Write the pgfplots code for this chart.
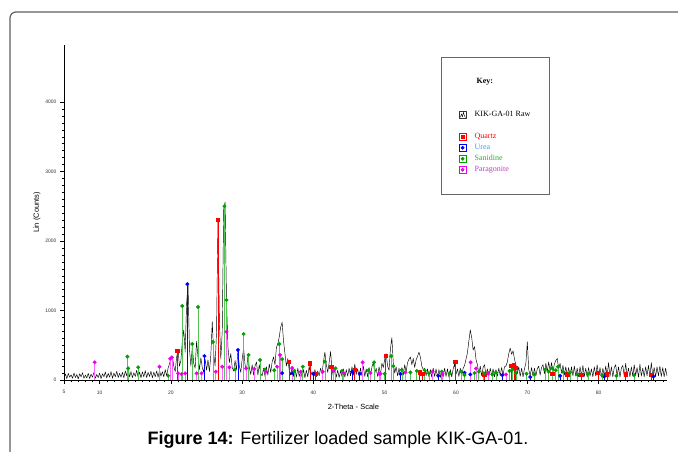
\documentclass[border=0pt]{standalone}
\usepackage{fontspec}
\setmainfont{Liberation Sans}
\newfontfamily\keyfont{Liberation Serif}
\usepackage{pgfplots}
\pgfplotsset{compat=1.18}
\definecolor{qred}{HTML}{FF0000}
\definecolor{ublue}{HTML}{0000FF}
\definecolor{utext}{HTML}{3AA0F0}
\definecolor{sgreen}{HTML}{00A000}
\definecolor{sline}{HTML}{55C455}
\definecolor{stext}{HTML}{33AA33}
\definecolor{pmag}{HTML}{EE00EE}
\definecolor{pline}{HTML}{FF66FF}
\definecolor{ptext}{HTML}{C040C0}
\definecolor{framegray}{HTML}{606060}
\begin{document}
\begin{tikzpicture}
\path[use as bounding box] (0pt,0pt) rectangle (678pt,452pt);
\draw[framegray, line width=1.2pt, rounded corners=6pt] (10pt,-5pt) -- (10pt,440pt) -- (700pt,440pt);
\begin{axis}[
  at={(64pt,72pt)}, anchor=south west,
  scale only axis, width=603pt, height=335pt,
  xmin=5, xmax=89.6, ymin=0, ymax=4820,
  axis lines*=left, axis line style={-, line width=0.5pt},
  tick align=outside,
  major tick length=4pt, minor tick length=2.5pt,
  tick style={black, line width=0.4pt},
  xtick={5,10,20,30,40,50,60,70,80},
  minor xtick={6,7,8,9,11,12,13,14,15,16,17,18,19,21,22,23,24,25,26,27,28,29,31,32,33,34,35,36,37,38,39,41,42,43,44,45,46,47,48,49,51,52,53,54,55,56,57,58,59,61,62,63,64,65,66,67,68,69,71,72,73,74,75,76,77,78,79,81,82,83,84,85,86,87,88,89},
  ytick={0,1000,2000,3000,4000},
  minor y tick num=9,
  /pgf/number format/assume math mode=true,
  /pgf/number format/1000 sep={},
  tick label style={font=\fontsize{5}{6}\selectfont, text=black!80},
  xticklabel style={yshift=-3pt},
  xlabel={2-Theta - Scale},
  ylabel={Lin (Counts)},
  label style={font=\fontsize{7.5}{9}\selectfont},
  xlabel style={at={(axis description cs:0.48,-0.08)}, anchor=center},
  ylabel style={at={(axis description cs:-0.045,0.5)}, anchor=center},
  legend style={at={(0.625,0.964)}, anchor=north west, draw=black!60, line width=0.6pt, fill=white,
    inner xsep=18pt, inner ysep=19pt, row sep=0pt, column sep=8pt,
    font=\keyfont\fontsize{8}{9}\selectfont, nodes={inner sep=0pt, text height=7.5pt, text depth=3.5pt}},
  legend cell align=left,
]
\addlegendimage{empty legend}\addlegendentry{\makebox[57pt][l]{\hspace{2pt}\textbf{Key:}}}
\addlegendimage{empty legend}\addlegendentry{}
\addlegendimage{empty legend}\addlegendentry{}
\addplot[black, line width=0.45pt, line join=round,
  legend image code/.code={\draw[black!80, line width=0.4pt] (0pt,-3.5pt) rectangle (7pt,3.5pt); \draw[black, line width=0.4pt] (1pt,-2.5pt) -- (2pt,1pt) -- (3pt,-2pt) -- (4pt,2.5pt) -- (5pt,-1pt) -- (6pt,-2.5pt);}]
coordinates {
(5.0,30) (5.2,85) (5.4,20) (5.6,95) (5.8,40) (6.0,75) (6.2,25) (6.4,100) (6.6,35) (6.8,80)
(7.0,15) (7.2,90) (7.4,45) (7.6,105) (7.8,25) (8.0,70) (8.2,30) (8.4,95) (8.6,20) (8.8,85)
(9.0,40) (9.2,110) (9.4,25) (9.6,80) (9.8,35) (10.0,100) (10.2,20) (10.4,90) (10.6,45) (10.8,115)
(11.0,30) (11.2,95) (11.4,40) (11.6,120) (11.8,25) (12.0,100) (12.2,45) (12.4,125) (12.6,35) (12.8,95)
(13.0,40) (13.2,110) (13.4,30) (13.6,130) (13.8,60) (14.0,170) (14.2,45) (14.4,120) (14.6,35) (14.8,105)
(15.0,50) (15.2,140) (15.4,40) (15.6,115) (15.8,30) (16.0,120) (16.2,45) (16.4,135) (16.6,35) (16.8,110)
(17.0,50) (17.2,125) (17.4,30) (17.6,115) (17.8,45) (18.0,130) (18.2,40) (18.4,140) (18.6,55) (18.8,120)
(19.0,45) (19.2,150) (19.4,60) (19.6,170) (19.8,230) (20.0,320) (20.2,340) (20.4,200) (20.6,120) (20.8,330)
(21.0,430) (21.2,200) (21.4,280) (21.6,560) (21.8,720) (22.0,400) (22.2,1100) (22.4,1380) (22.6,450) (22.8,200)
(23.0,480) (23.2,240) (23.4,170) (23.6,560) (23.8,330) (24.0,150) (24.2,320) (24.4,180) (24.6,110) (24.8,300)
(25.0,140) (25.2,290) (25.4,120) (25.6,360) (25.8,840) (26.0,380) (26.2,200) (26.4,700) (26.6,2300) (26.8,850)
(27.0,300) (27.2,700) (27.4,2450) (27.6,2560) (27.8,1150) (28.0,480) (28.2,250) (28.4,380) (28.6,180) (28.8,130)
(29.0,280) (29.2,150) (29.4,420) (29.6,200) (29.8,110) (30.0,300) (30.2,460) (30.4,220) (30.6,130) (30.8,350)
(31.0,180) (31.2,80) (31.4,220) (31.6,70) (31.8,200) (32.0,260) (32.2,70) (32.4,220) (32.6,90) (32.8,60)
(33.0,170) (33.2,50) (33.4,190) (33.6,70) (33.8,230) (34.0,110) (34.2,260) (34.4,330) (34.6,220) (34.8,470)
(35.0,520) (35.2,620) (35.4,760) (35.6,830) (35.8,560) (36.0,380) (36.2,200) (36.4,310) (36.6,140) (36.8,70)
(37.0,200) (37.2,50) (37.4,160) (37.6,40) (37.8,170) (38.0,50) (38.2,130) (38.4,40) (38.6,150) (38.8,30)
(39.0,140) (39.2,45) (39.4,200) (39.6,55) (39.8,120) (40.0,35) (40.2,150) (40.4,45) (40.6,130) (40.8,60)
(41.0,170) (41.2,90) (41.4,260) (41.6,400) (41.8,220) (42.0,110) (42.2,250) (42.4,410) (42.6,150) (42.8,50)
(43.0,160) (43.2,40) (43.4,140) (43.6,35) (43.8,130) (44.0,50) (44.2,160) (44.4,40) (44.6,150) (44.8,55)
(45.0,170) (45.2,60) (45.4,190) (45.6,70) (45.8,230) (46.0,80) (46.2,160) (46.4,50) (46.6,170) (46.8,60)
(47.0,200) (47.2,50) (47.4,160) (47.6,45) (47.8,180) (48.0,60) (48.2,190) (48.4,250) (48.6,100) (48.8,170)
(49.0,50) (49.2,190) (49.4,80) (49.6,240) (49.8,180) (50.0,300) (50.2,380) (50.4,200) (50.6,140) (50.8,450)
(51.0,610) (51.2,240) (51.4,100) (51.6,190) (51.8,60) (52.0,170) (52.2,50) (52.4,180) (52.6,70) (52.8,220)
(53.0,120) (53.2,250) (53.4,300) (53.6,330) (53.8,220) (54.0,310) (54.2,180) (54.4,290) (54.6,340) (54.8,400)
(55.0,330) (55.2,200) (55.4,150) (55.6,170) (55.8,60) (56.0,160) (56.2,45) (56.4,150) (56.6,40) (56.8,170)
(57.0,50) (57.2,160) (57.4,40) (57.6,150) (57.8,35) (58.0,140) (58.2,45) (58.4,170) (58.6,50) (58.8,160)
(59.0,40) (59.2,150) (59.4,45) (59.6,160) (59.8,230) (60.0,80) (60.2,160) (60.4,50) (60.6,170) (60.8,60)
(61.0,170) (61.2,210) (61.4,300) (61.6,390) (61.8,560) (62.0,720) (62.2,610) (62.4,430) (62.6,480) (62.8,300)
(63.0,220) (63.2,90) (63.4,200) (63.6,60) (63.8,180) (64.0,220) (64.2,70) (64.4,160) (64.6,50) (64.8,170)
(65.0,60) (65.2,160) (65.4,45) (65.6,150) (65.8,55) (66.0,170) (66.2,60) (66.4,180) (66.6,70) (66.8,190)
(67.0,200) (67.2,260) (67.4,380) (67.6,460) (67.8,370) (68.0,420) (68.2,300) (68.4,220) (68.6,90) (68.8,190)
(69.0,50) (69.2,170) (69.4,45) (69.6,160) (69.8,240) (70.0,550) (70.2,150) (70.4,60) (70.6,180) (70.8,50)
(71.0,170) (71.2,60) (71.4,160) (71.6,200) (71.8,70) (72.0,180) (72.2,220) (72.4,90) (72.6,240) (72.8,120)
(73.0,260) (73.2,130) (73.4,250) (73.6,110) (73.8,230) (74.0,280) (74.2,310) (74.4,160) (74.6,240) (74.8,100)
(75.0,210) (75.2,70) (75.4,190) (75.6,60) (75.8,180) (76.0,50) (76.2,190) (76.4,60) (76.6,200) (76.8,55)
(77.0,170) (77.2,45) (77.4,190) (77.6,60) (77.8,210) (78.0,50) (78.2,170) (78.4,40) (78.6,180) (78.8,55)
(79.0,160) (79.2,45) (79.4,190) (79.6,60) (79.8,220) (80.0,50) (80.2,180) (80.4,40) (80.6,170) (80.8,55)
(81.0,200) (81.2,60) (81.4,250) (81.6,50) (81.8,190) (82.0,45) (82.2,180) (82.4,220) (82.6,60) (82.8,190)
(83.0,40) (83.2,170) (83.4,210) (83.6,50) (83.8,240) (84.0,60) (84.2,170) (84.4,45) (84.6,190) (84.8,55)
(85.0,220) (85.2,60) (85.4,180) (85.6,40) (85.8,230) (86.0,55) (86.2,170) (86.4,45) (86.6,190) (86.8,60)
(87.0,210) (87.2,50) (87.4,250) (87.6,55) (87.8,180) (88.0,45) (88.2,190) (88.4,60) (88.6,200) (88.8,50)
(89.0,180) (89.2,45) (89.4,170) (89.6,60)
};
\addlegendentry{\makebox[57pt][l]{KIK-GA-01 Raw}}
\addlegendimage{empty legend}\addlegendentry{}
% Quartz
\addplot[ycomb, draw=qred, line width=0.7pt, mark=square*, mark size=1.7pt, mark options={solid, fill=qred, draw=qred},
  legend image code/.code={\draw[qred, line width=0.5pt, fill=white] (0pt,-3.2pt) rectangle (6.4pt,3.2pt); \fill[qred] (1.7pt,-1.5pt) rectangle (4.7pt,1.5pt);}]
coordinates {
(20.9,420) (26.6,2300) (36.55,260) (39.5,240) (40.3,90) (42.5,190) (45.8,150) (50.15,345) (54.9,110) (55.3,90)
(59.9,260) (64.0,80) (67.7,200) (68.15,216) (68.3,175) (73.5,90) (75.6,80) (77.6,70) (79.9,100) (81.2,80) (83.8,80) (87.4,70)
};
\addlegendentry{\makebox[57pt][l]{\textcolor{qred}{Quartz}}}
% Urea
\addplot[ycomb, draw=ublue, line width=0.7pt, mark=*, mark size=1.6pt, mark options={solid, fill=ublue, draw=ublue},
  legend image code/.code={\draw[ublue, line width=0.5pt, fill=white] (0pt,-3.2pt) rectangle (6.4pt,3.2pt); \fill[ublue] (3.2pt,0pt) circle (1.5pt);}]
coordinates {
(22.3,1380) (24.7,345) (29.4,432) (35.6,100) (37.0,100) (40.0,90) (45.4,120) (46.5,90) (52.2,86) (57.5,60)
(61.2,105) (62.0,80) (66.5,70) (70.4,43) (74.6,60) (80.8,50) (87.7,50)
};
\addlegendentry{\makebox[57pt][l]{\textcolor{utext}{Urea}}}
% Sanidine
\addplot[ycomb, draw=sline, line width=0.7pt, mark=*, mark size=1.6pt, mark options={solid, fill=sgreen, draw=sgreen},
  legend image code/.code={\draw[sgreen, line width=0.5pt, fill=white] (0pt,-3.2pt) rectangle (6.4pt,3.2pt); \fill[sgreen] (3.2pt,0pt) circle (1.5pt);}]
coordinates {
(13.9,336) (14.0,168) (15.4,183) (19.6,62) (21.6,1065) (23.0,518) (23.8,1050) (25.9,547) (27.5,2500) (27.8,1150)
(29.0,150) (30.2,662) (30.9,360) (32.5,288) (33.2,150) (34.5,140) (35.2,518) (35.6,300) (37.3,130) (38.5,192)
(41.6,264) (43.1,168) (44.0,130) (47.7,140) (48.5,254) (50.0,90) (50.9,345) (51.2,200) (52.4,144) (53.6,110)
(54.5,130) (55.6,140) (56.2,96) (58.0,120) (59.1,96) (60.7,120) (61.2,72) (62.6,100) (63.2,120) (63.9,96)
(64.5,100) (65.1,80) (65.6,110) (67.5,130) (67.9,150) (68.4,100) (69.9,90) (71.0,80) (72.5,150) (73.0,120)
(73.5,170) (74.0,140) (74.3,190) (75.0,120) (76.0,110) (77.0,80) (78.5,90) (80.5,70) (82.5,60) (85.0,70)
};
\addlegendentry{\makebox[57pt][l]{\textcolor{stext}{Sanidine}}}
% Paragonite
\addplot[ycomb, draw=pline, line width=0.7pt, mark=*, mark size=1.6pt, mark options={solid, fill=pmag, draw=pmag},
  legend image code/.code={\draw[pmag, line width=0.5pt, fill=white] (0pt,-3.2pt) rectangle (6.4pt,3.2pt); \fill[pmag] (3.2pt,0pt) circle (1.5pt);}]
coordinates {
(9.3,255) (18.4,191) (19.9,306) (20.15,326) (21.0,96) (21.5,86) (22.0,96) (23.6,96) (24.3,96) (26.3,119)
(27.2,191) (27.8,695) (28.2,182) (30.55,168) (31.7,158) (33.3,119) (34.9,191) (35.3,360) (37.0,170) (38.2,119)
(41.3,119) (42.8,134) (44.2,100) (46.9,254) (48.0,100) (49.2,90) (49.4,90) (52.9,110) (56.7,119) (58.1,90)
(62.05,254) (62.8,165) (64.5,90) (67.0,80)
};
\addlegendentry{\makebox[57pt][l]{\textcolor{ptext}{Paragonite}}}
\end{axis}
\node[font=\fontsize{18}{21}\selectfont] at (338pt,12pt) {\textbf{Figure 14:} Fertilizer loaded sample KIK-GA-01.};
\end{tikzpicture}
\end{document}
